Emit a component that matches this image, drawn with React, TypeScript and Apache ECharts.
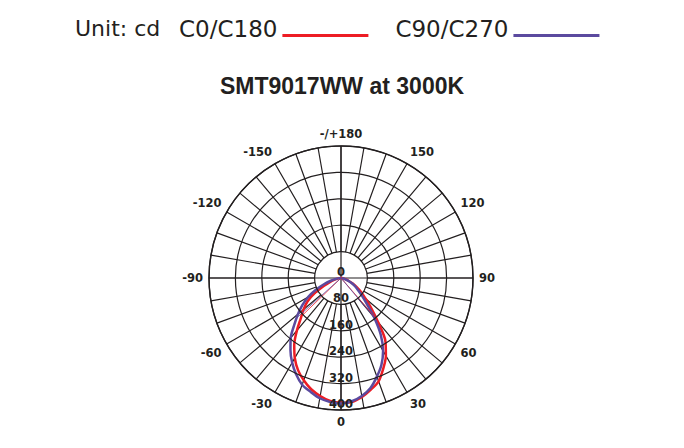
import * as echarts from "echarts"
import { useEffect, useRef } from "react"

// gamma angles, -90 (left) .. 0 (down) .. 90 (right)
const angles = [
  -90, -85, -80, -75, -70, -65, -60, -55, -50, -45, -40, -35, -30, -25, -20, -15, -10, -5, 0,
  5, 10, 15, 20, 25, 30, 35, 40, 45, 50, 55, 60, 65, 70, 75, 80, 85, 90,
]
const c0c180 = [
  0, 4, 10, 20, 36, 58, 92, 124, 148, 172, 208, 247, 280, 308, 330, 349, 363, 374, 378,
  377, 366, 350, 333, 303, 272, 235, 175, 130, 97, 75, 55, 38, 24, 14, 7, 3, 0,
]
const c90c270 = [
  0, 5, 15, 32, 55, 84, 115, 143, 170, 200, 237, 267, 296, 322, 344, 357, 370, 377, 380,
  375, 363, 345, 318, 290, 255, 210, 157, 110, 82, 62, 48, 33, 21, 12, 6, 2, 0,
]
// thin rays from the centre: [angle, value]
const c0Rays = [
  [-46, 170],
  [41, 168],
]
const c90Rays = [
  [-48, 184],
  [40, 160],
]
const radiusMax = 400
const radiusStep = 80

const RED = "#ed1c24"
const PURPLE = "#5b4a9f"
const INK = "#231f20"
const FONT = "DejaVu Sans"

// legend swatch: a line sitting at the text baseline (the empty dot at 0,0 keeps the box tall)
const LEGEND_ICON = "path://M0,0L0.01,0Z M0,14L86,14L86,17L0,17Z"

const toAxis = (a: number) => (a < 0 ? a + 360 : a)
const angleLabel = (v: number) => {
  if (v % 30 !== 0) return ""
  if (v === 180) return "-/+180"
  return v > 180 ? `-${360 - v}` : String(v)
}

const gridLine = { color: INK, width: 1.2 }

export default function App() {
  const ref = useRef<HTMLDivElement>(null)

  useEffect(() => {
    document.body.style.margin = "0"
    if (!ref.current) return
    const chart = echarts.init(ref.current, null, { renderer: "svg" })

    const curve = (name: string, values: number[], color: string) => ({
      name,
      type: "line",
      coordinateSystem: "polar",
      polarIndex: 0,
      data: angles.map((a, i) => [values[i], toAxis(a)]),
      smooth: 0.3,
      symbol: "none",
      lineStyle: { color, width: 2.5 },
      itemStyle: { color },
      z: 3,
    })
    const rays = (name: string, list: number[][], color: string) =>
      list.map(([a, v]) => ({
        name,
        type: "line",
        coordinateSystem: "polar",
        polarIndex: 0,
        data: [
          [0, toAxis(a)],
          [v, toAxis(a)],
        ],
        symbol: "none",
        lineStyle: { color, width: 0.8 },
        itemStyle: { color },
        z: 3,
      }))

    chart.setOption({
      animation: false,
      backgroundColor: "#ffffff",
      title: [
        {
          text: "Unit: cd",
          left: 75,
          top: 17,
          padding: 0,
          textStyle: { fontFamily: FONT, fontSize: 22, fontWeight: "normal", color: INK },
        },
        {
          text: "SMT9017WW at 3000K",
          left: "center",
          top: 74,
          padding: 0,
          textStyle: {
            fontFamily: "Liberation Sans",
            fontSize: 23,
            fontWeight: "bold",
            color: INK,
          },
        },
      ],
      legend: {
        data: ["C0/C180", "C90/C270"],
        left: 179,
        top: 17,
        padding: 0,
        align: "right",
        icon: LEGEND_ICON,
        itemWidth: 86,
        itemHeight: 17,
        itemGap: 27,
        selectedMode: false,
        textStyle: { fontFamily: FONT, fontSize: 23, color: INK },
      },
      polar: [
        { center: [341, 278], radius: [0, 132] },
        { center: [341, 278], radius: [132 * (radiusStep / radiusMax), 132] },
      ],
      angleAxis: [
        {
          polarIndex: 0,
          type: "value",
          min: 0,
          max: 360,
          interval: 90,
          startAngle: 270,
          clockwise: false,
          axisLine: { show: true, lineStyle: { color: INK, width: 1.4 } },
          axisTick: { show: false },
          axisLabel: { show: false },
          splitLine: { show: true, lineStyle: gridLine },
        },
        {
          polarIndex: 1,
          type: "value",
          min: 0,
          max: 360,
          interval: 10,
          startAngle: 270,
          clockwise: false,
          axisLine: { show: false },
          axisTick: { show: false },
          axisLabel: {
            formatter: angleLabel,
            margin: 6,
            color: INK,
            fontFamily: FONT,
            fontWeight: "bold",
            fontSize: 11.5,
          },
          splitLine: { show: true, lineStyle: gridLine },
        },
      ],
      radiusAxis: [
        {
          polarIndex: 0,
          type: "value",
          min: 0,
          max: radiusMax,
          interval: radiusStep,
          z: 5,
          axisLine: { show: false },
          axisTick: { show: false },
          splitLine: { show: true, lineStyle: gridLine },
          axisLabel: {
            margin: 0,
            align: "center",
            verticalAlign: "bottom",
            color: INK,
            fontFamily: FONT,
            fontWeight: "bold",
            fontSize: 11.5,
          },
        },
        {
          polarIndex: 1,
          type: "value",
          min: 0,
          max: radiusMax,
          show: false,
          splitLine: { show: false },
        },
      ],
      series: [
        curve("C0/C180", c0c180, RED),
        curve("C90/C270", c90c270, PURPLE),
        ...rays("C0/C180", c0Rays, RED),
        ...rays("C90/C270", c90Rays, PURPLE),
      ],
    })

    return () => chart.dispose()
  }, [])

  return <div ref={ref} style={{ width: 684, height: 448 }} />
}
